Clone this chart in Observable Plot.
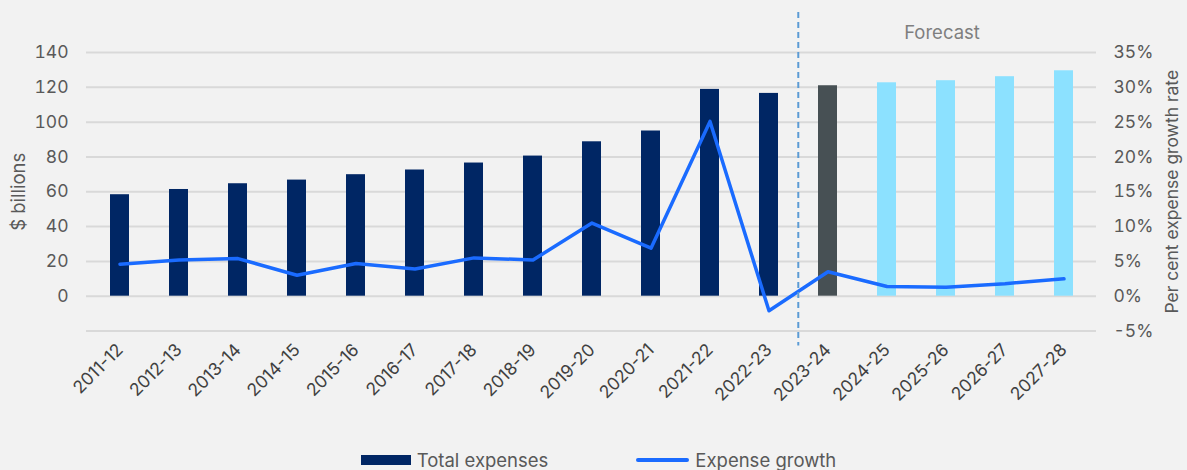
<!DOCTYPE html>
<html>
<head>
<meta charset="utf-8">
<script src="https://cdn.jsdelivr.net/npm/d3@7"></script>
<script src="https://cdn.jsdelivr.net/npm/@observablehq/plot@0.6"></script>
<style>
  html, body { margin: 0; padding: 0; background: #f2f2f2; }
  body { width: 1187px; height: 470px; overflow: hidden; font-family: Inter, "Noto Sans", sans-serif; }
  #legend { display: flex; justify-content: center; align-items: center; height: 30px; font-size: 18.5px; color: #595959; padding-left: 10px; }
  .item { display: flex; align-items: center; margin: 0 44px; }
  .sw-bar { width: 50px; height: 10px; background: #002664; margin-right: 6px; }
  .sw-line { width: 53px; height: 4px; border-radius: 2px; background: #1a6bff; margin-right: 6px; }
</style>
</head>
<body>
<div id="chart"></div>
<div id="legend">
  <div class="item"><span class="sw-bar"></span><span>Total expenses</span></div>
  <div class="item"><span class="sw-line"></span><span>Expense growth</span></div>
</div>
<script>
const years = ["2011-12","2012-13","2013-14","2014-15","2015-16","2016-17","2017-18","2018-19","2019-20","2020-21","2021-22","2022-23","2023-24","2024-25","2025-26","2026-27","2027-28"];
const expenses = [58.3, 61.3, 64.6, 66.7, 69.8, 72.5, 76.5, 80.5, 88.7, 94.9, 118.8, 116.5, 120.9, 122.6, 123.8, 126.1, 129.5];
const growth = [4.6, 5.2, 5.4, 3.0, 4.7, 3.9, 5.5, 5.2, 10.5, 6.9, 25.1, -2.1, 3.5, 1.4, 1.3, 1.8, 2.5];
const kinds = ["actual","actual","actual","actual","actual","actual","actual","actual","actual","actual","actual","actual","estimate","forecast","forecast","forecast","forecast"];
const kindColors = {actual: "#002664", estimate: "#475054", forecast: "#8ce1ff"};
const leftTicks = [0, 20, 40, 60, 80, 100, 120, 140];
const gridTicks = [-20, 0, 20, 40, 60, 80, 100, 120, 140];
const rightTicks = [-5, 0, 5, 10, 15, 20, 25, 30, 35];
const ratio = 4; // 35% <-> 140
const forecastStart = "2023-24";
const forecastLabelAt = "2025-26";

const data = years.map((y, i) => ({year: y, expense: expenses[i], growth: growth[i], kind: kinds[i]}));

const W = 1187, H = 445, mL = 86, mR = 91, mT = 52, mB = 114.5;
const step = (W - mL - mR) / years.length;

const chart = Plot.plot({
  width: W, height: H,
  marginLeft: mL, marginRight: mR, marginTop: mT, marginBottom: mB,
  style: {background: "transparent", fontFamily: "Inter, 'Noto Sans', sans-serif", color: "#595959"},
  x: {domain: years, paddingInner: 0.685, paddingOuter: 0.3425, label: null},
  y: {domain: [-20, 140], label: null},
  color: {domain: Object.keys(kindColors), range: Object.values(kindColors)},
  marks: [
    Plot.gridY(gridTicks, {stroke: "#d9d9d9", strokeOpacity: 1, strokeWidth: 2}),
    Plot.barY(data, {x: "year", y: "expense", fill: "kind"}),
    Plot.lineY(data, {x: "year", y: d => d.growth * ratio, stroke: "#1a6bff", strokeWidth: 3.5, strokeLinejoin: "round"}),
    Plot.ruleX([forecastStart], {dx: -step / 2, insetTop: -40, insetBottom: -15, stroke: "#5b9bd5", strokeWidth: 2, strokeDasharray: "6,4"}),
    Plot.text(["Forecast"], {x: () => forecastLabelAt, text: d => d, frameAnchor: "top", dx: -4, dy: -27, fontSize: 18.5, fill: "#7f7f7f"}),
    Plot.axisY(leftTicks, {anchor: "left", tickSize: 0, tickPadding: 18, fontSize: 17.5, label: null}),
    Plot.axisY(rightTicks.map(d => d * ratio), {anchor: "right", tickSize: 0, tickPadding: 17, fontSize: 17.5, tickFormat: d => `${d / ratio}%`, textAnchor: "start", label: null}),
    Plot.axisX({tickRotate: -45, tickSize: 0, tickPadding: 16, fontSize: 17.5, label: null, fill: "#404040"}),
    Plot.text(["$ billions"], {frameAnchor: "left", textAnchor: "middle", rotate: -90, dx: -67, fontSize: 18.5, fill: "#595959"}),
    Plot.text(["Per cent expense growth rate"], {frameAnchor: "right", textAnchor: "middle", rotate: -90, dx: 76, fontSize: 17.5, fill: "#595959"})
  ]
});
document.getElementById("chart").appendChild(chart);
</script>
</body>
</html>
